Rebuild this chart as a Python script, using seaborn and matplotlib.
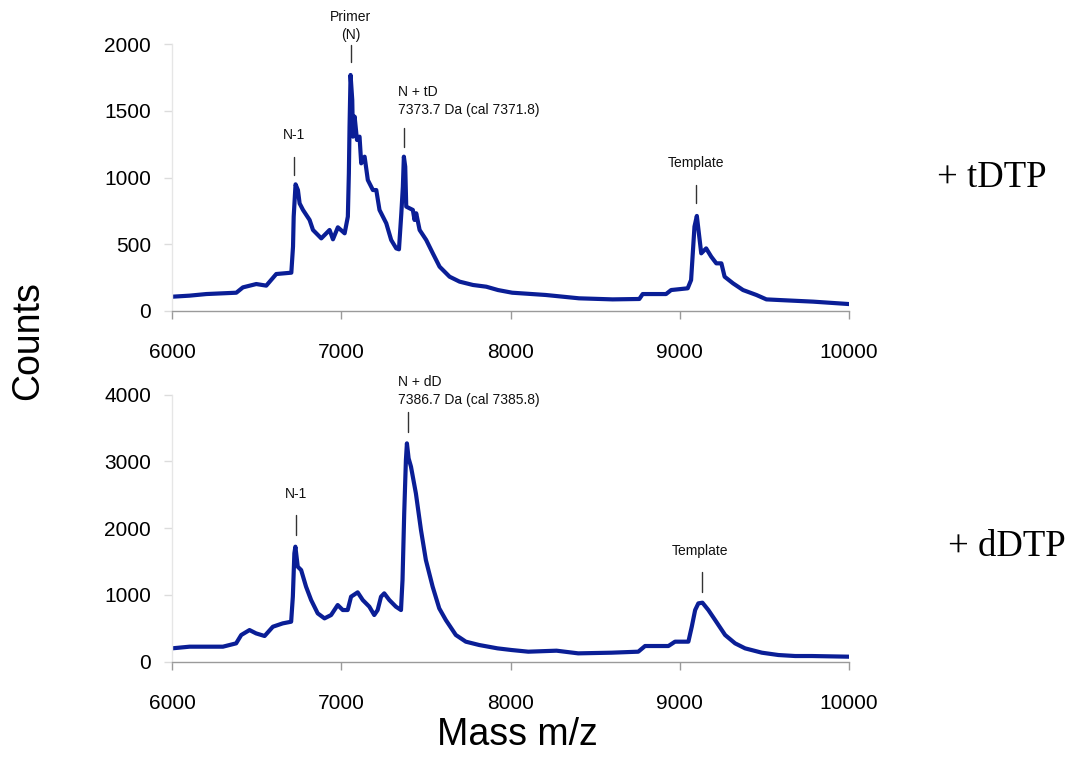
import matplotlib
matplotlib.use("Agg")
import matplotlib.pyplot as plt
import seaborn as sns
import pandas as pd

# ---------------- data ----------------
tdtp_mass = [6000, 6104, 6203, 6380, 6419, 6498, 6557, 6616, 6705, 6715, 6719, 6730,
             6744, 6754, 6774, 6813, 6833, 6882, 6931, 6951, 6980, 7020, 7039, 7045,
             7049, 7055, 7065, 7069, 7079, 7093, 7108, 7118, 7138, 7157, 7187, 7207,
             7226, 7266, 7295, 7325, 7341, 7355, 7364, 7370, 7378, 7384, 7404, 7423,
             7433, 7443, 7463, 7502, 7541, 7581, 7640, 7699, 7778, 7857, 7926, 8010,
             8208, 8405, 8603, 8761, 8781, 8919, 8949, 9047, 9067, 9077, 9087, 9101,
             9113, 9127, 9156, 9186, 9216, 9246, 9265, 9315, 9374, 9453, 9512, 9591,
             9789, 10000]
tdtp_counts = [107, 115, 127, 137, 177, 202, 190, 277, 287, 482, 707, 949,
               906, 806, 757, 682, 607, 544, 607, 537, 627, 582, 707, 1031,
               1381, 1768, 1581, 1306, 1456, 1281, 1306, 1106, 1156, 981, 906, 906,
               757, 657, 532, 469, 462, 732, 931, 1156, 1081, 782, 769, 757,
               682, 732, 607, 532, 432, 332, 257, 220, 195, 182, 157, 137,
               120, 95, 87, 90, 127, 127, 157, 170, 232, 432, 632, 712,
               582, 432, 469, 407, 357, 357, 257, 207, 157, 120, 87, 82,
               70, 52]

ddtp_mass = [6000, 6104, 6301, 6379, 6409, 6458, 6497, 6547, 6596, 6654, 6704, 6714,
             6723, 6729, 6743, 6763, 6792, 6822, 6861, 6901, 6940, 6979, 7009, 7038,
             7058, 7097, 7127, 7166, 7195, 7215, 7235, 7254, 7284, 7323, 7353, 7362,
             7372, 7382, 7388, 7398, 7412, 7441, 7471, 7500, 7540, 7579, 7618, 7677,
             7736, 7815, 7923, 8006, 8105, 8272, 8400, 8597, 8755, 8795, 8933, 8972,
             9051, 9071, 9091, 9110, 9134, 9169, 9209, 9268, 9327, 9386, 9485, 9583,
             9682, 9780, 10000]
ddtp_counts = [200, 225, 225, 275, 400, 474, 424, 385, 524, 574, 599, 974,
               1623, 1723, 1423, 1373, 1124, 924, 724, 649, 699, 849, 774, 774,
               974, 1039, 924, 824, 699, 774, 974, 1024, 924, 824, 774, 1224,
               2222, 3021, 3271, 3046, 2922, 2522, 1973, 1523, 1124, 799, 624, 400,
               300, 250, 200, 175, 150, 165, 125, 135, 150, 235, 235, 300,
               300, 524, 774, 874, 884, 774, 624, 400, 275, 200, 135, 100,
               85, 85, 75]

# peak annotations
tdtp_labels = ["N-1", "Primer\n(N)", "N + tD\n7373.7 Da (cal 7371.8)", "Template"]
tdtp_label_mass = [6720, 7055, 7372, 9095]
ddtp_labels = ["N-1", "N + dD\n7386.7 Da (cal 7385.8)", "Template"]
ddtp_label_mass = [6731, 7392, 9132]

condition_labels = ["+ tDTP", "+ dDTP"]
x_ticks = [6000, 7000, 8000, 9000, 10000]
y_ticks_top = [0, 500, 1000, 1500, 2000]
y_ticks_bottom = [0, 1000, 2000, 3000, 4000]

# ---------------- style ----------------
sns.set_style("white")
plt.rcParams["font.family"] = ["Liberation Sans", "DejaVu Sans"]
plt.rcParams["text.color"] = "black"
plt.rcParams["xtick.labelcolor"] = "black"
plt.rcParams["ytick.labelcolor"] = "black"

LINE_COLOR = "#0A1E96"

fig = plt.figure(figsize=(10.73, 7.6), dpi=100)
left, width = 172 / 1073, (849 - 172) / 1073
ax1 = fig.add_axes([left, 1 - 311 / 760, width, (311 - 44) / 760])
ax2 = fig.add_axes([left, 1 - 661.7 / 760, width, (661.7 - 394.7) / 760])

df1 = pd.DataFrame({"mass": tdtp_mass, "counts": tdtp_counts})
df2 = pd.DataFrame({"mass": ddtp_mass, "counts": ddtp_counts})

sns.lineplot(data=df1, x="mass", y="counts", ax=ax1, color=LINE_COLOR, lw=3.0,
             sort=False, estimator=None)
sns.lineplot(data=df2, x="mass", y="counts", ax=ax2, color=LINE_COLOR, lw=3.0,
             sort=False, estimator=None)

for ax, yt in ((ax1, y_ticks_top), (ax2, y_ticks_bottom)):
    ax.set_xlim(6000, 10000)
    ax.set_ylim(0, yt[-1])
    ax.set_xticks(x_ticks)
    ax.set_yticks(yt)
    ax.set_xlabel("")
    ax.set_ylabel("")
    for s in ("top", "right"):
        ax.spines[s].set_visible(False)
    ax.spines["bottom"].set_color("#9a9a9a")
    ax.spines["bottom"].set_linewidth(1.0)
    ax.spines["left"].set_color("#e6e6e6")
    ax.spines["left"].set_linewidth(1.0)
    ax.tick_params(axis="x", direction="out", length=6, width=1, color="#9a9a9a",
                   labelcolor="black", labelsize=15, pad=17, bottom=True)
    ax.tick_params(axis="y", direction="out", length=6, width=1, color="#dcdcdc",
                   labelcolor="black", labelsize=15, pad=9, left=True)

def annotate(ax, label, mass, y0, y1, ytext, ha="center", dx=0):
    ax.plot([mass, mass], [y0, y1], color="#333333", lw=1.0, clip_on=False)
    ax.text(mass + dx, ytext, label, ha=ha, va="center", fontsize=10,
            color="#111111", clip_on=False, linespacing=1.35)

# top panel
annotate(ax1, tdtp_labels[0], tdtp_label_mass[0], 1019, 1154, 1318)
annotate(ax1, tdtp_labels[1], tdtp_label_mass[1], 1865, 1993, 2138)
annotate(ax1, tdtp_labels[2], tdtp_label_mass[2], 1228, 1371, 1575, ha="left", dx=-38)
annotate(ax1, tdtp_labels[3], tdtp_label_mass[3], 809, 944, 1109)
# bottom panel
annotate(ax2, ddtp_labels[0], ddtp_label_mass[0], 1898, 2198, 2508)
annotate(ax2, ddtp_labels[1], ddtp_label_mass[1], 3446, 3745, 4055, ha="left", dx=-57)
annotate(ax2, ddtp_labels[2], ddtp_label_mass[2], 1049, 1348, 1663, dx=-15)

fig.text(28 / 1073, 1 - 341 / 760, "Counts", rotation=90, ha="center", va="center",
         fontsize=27)
fig.text(517 / 1073, 1 - 735 / 760, "Mass m/z", ha="center", va="center", fontsize=27)
fig.text(992 / 1073, 1 - 178 / 760, condition_labels[0], ha="center", va="center",
         fontsize=26.5, family=["Liberation Serif", "DejaVu Serif"])
fig.text(1007 / 1073, 1 - 547 / 760, condition_labels[1], ha="center", va="center",
         fontsize=26.5, family=["Liberation Serif", "DejaVu Serif"])

fig.savefig("out.png", dpi=100)
